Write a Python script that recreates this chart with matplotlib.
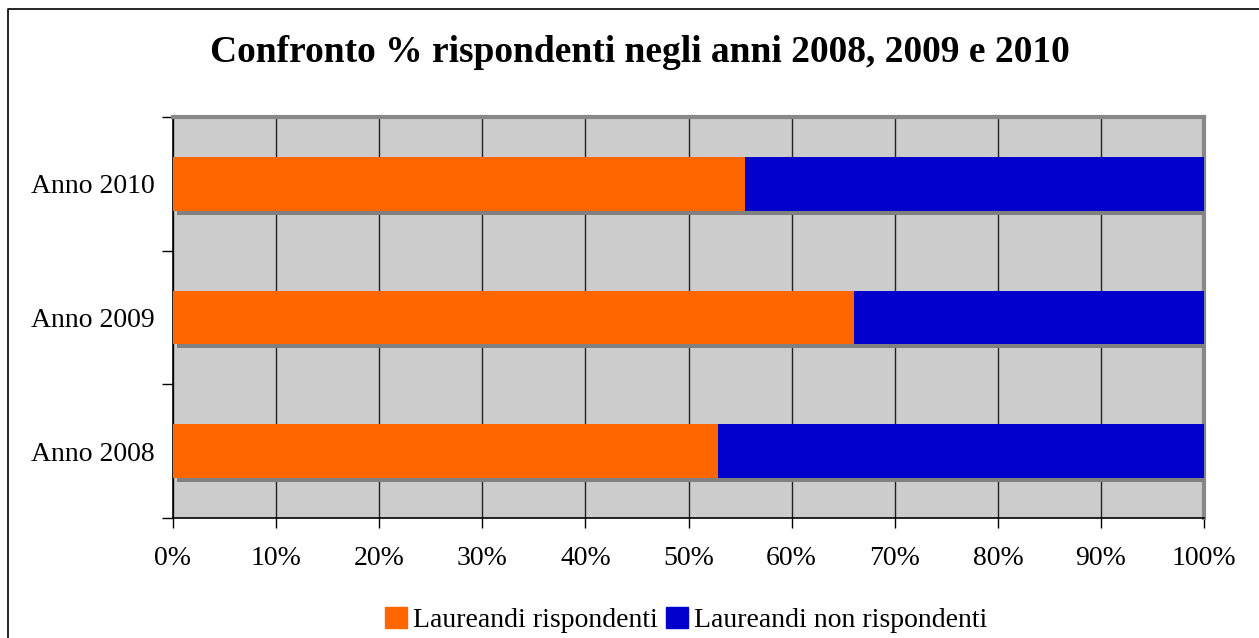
import matplotlib.pyplot as plt
import matplotlib.patheffects as pe
from matplotlib.lines import Line2D
from matplotlib.patches import Patch

plt.rcParams['font.family'] = ['Liberation Serif', 'DejaVu Serif']

anni = ['Anno 2008', 'Anno 2009', 'Anno 2010']
rispondenti = [52.9, 66.0, 55.5]
non_rispondenti = [47.1, 34.0, 44.5]
col_risp = '#ff6600'
col_non = '#0000cc'

fig = plt.figure(figsize=(12.59, 6.38), dpi=100)
ax = fig.add_axes([0.1374, 0.188, 0.819, 0.6285])
ax.set_facecolor('#cccccc')

shadow = [pe.SimplePatchShadow(offset=(3, -3), shadow_rgbFace='#808080', alpha=1), pe.Normal()]
y = range(len(anni))
b1 = ax.barh(y, rispondenti, height=0.4, color=col_risp, zorder=3)
b2 = ax.barh(y, non_rispondenti, left=rispondenti, height=0.4, color=col_non, zorder=3)
for bar in list(b1) + list(b2):
    bar.set_path_effects(shadow)

ax.set_xlim(0, 100)
ax.set_ylim(-0.5, 2.5)
ax.set_xticks(range(0, 101, 10))
ax.set_xticklabels([f'{v}%' for v in range(0, 101, 10)], fontsize=20)
ax.set_yticks(list(y))
ax.set_yticklabels(anni, fontsize=20)
ax.tick_params(axis='y', length=0, pad=13)
ax.set_yticks([-0.5, 0.5, 1.5, 2.5], minor=True)
ax.tick_params(axis='y', which='minor', length=8, width=1, color='black', direction='out')
ax.tick_params(axis='x', length=7, width=1, direction='out', pad=13)
ax.xaxis.grid(True, color='#222222', linewidth=1, zorder=1)
ax.set_axisbelow(True)

for s in ['left', 'bottom']:
    ax.spines[s].set_color('black')
    ax.spines[s].set_linewidth(1.2)
for s in ['top', 'right']:
    ax.spines[s].set_color('#888888')
    ax.spines[s].set_linewidth(3)

fig.text(0.508, 0.917, 'Confronto % rispondenti negli anni 2008, 2009 e 2010',
         ha='center', va='center', fontsize=27, fontweight='bold')

handles = [Patch(color=col_risp, label='Laureandi rispondenti'),
           Patch(color=col_non, label='Laureandi non rispondenti')]
ax.legend(handles=handles, loc='center', bbox_to_anchor=(0.4976, -0.254), ncol=2, frameon=False,
          fontsize=20, handlelength=0.8, handleheight=0.8, handletextpad=0.2, columnspacing=0.3)

fig.add_artist(Line2D([8 / 1259, 8 / 1259, 1], [0, 1 - 9 / 638, 1 - 9 / 638],
                      transform=fig.transFigure, color='black', linewidth=1.2))

fig.savefig('out.png', dpi=100)
